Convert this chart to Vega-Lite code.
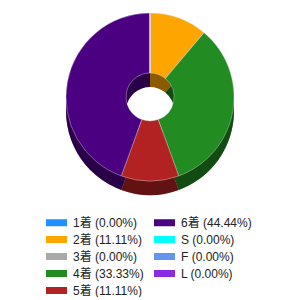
{
  "$schema": "https://vega.github.io/schema/vega-lite/v6.json",
  "width": 300,
  "height": 194,
  "padding": 0,
  "background": "white",
  "config": {"view": {"stroke": null}},
  "data": {
    "values": [
      {"label": "1着 (0.00%)", "count": 0, "rank": 1},
      {"label": "2着 (11.11%)", "count": 1, "rank": 2},
      {"label": "3着 (0.00%)", "count": 0, "rank": 3},
      {"label": "4着 (33.33%)", "count": 3, "rank": 4},
      {"label": "5着 (11.11%)", "count": 1, "rank": 5},
      {"label": "6着 (44.44%)", "count": 4, "rank": 6},
      {"label": "S (0.00%)", "count": 0, "rank": 7},
      {"label": "F (0.00%)", "count": 0, "rank": 8},
      {"label": "L (0.00%)", "count": 0, "rank": 9}
    ]
  },
  "encoding": {
    "theta": {"field": "count", "type": "quantitative", "stack": true},
    "order": {"field": "rank", "type": "quantitative"}
  },
  "layer": [
    {
      "mark": {"type": "arc", "outerRadius": 84, "innerRadius": 24, "yOffset": 14},
      "encoding": {
        "color": {
          "field": "label",
          "type": "nominal",
          "scale": {
            "domain": ["1着 (0.00%)", "2着 (11.11%)", "3着 (0.00%)", "4着 (33.33%)", "5着 (11.11%)", "6着 (44.44%)", "S (0.00%)", "F (0.00%)", "L (0.00%)"],
            "range": ["#1E90FF", "#FFA500", "#A9A9A9", "#228B22", "#B22222", "#4B0082", "#00FFFF", "#6495ED", "#8A2BE2"]
          },
          "legend": {
            "title": null,
            "orient": "none",
            "legendX": 46,
            "legendY": 212,
            "columns": 2,
            "columnPadding": 10,
            "rowPadding": -2,
            "symbolType": "M-1,-0.333H1V0.333H-1Z",
            "symbolSize": 441,
            "symbolStrokeWidth": 0,
            "labelOffset": 6,
            "labelFont": "Liberation Sans, Noto Sans CJK JP",
            "labelFontSize": 12,
            "labelColor": "#222222",
            "labelLimit": 200
          }
        }
      }
    },
    {
      "mark": {"type": "arc", "outerRadius": 84, "innerRadius": 24, "yOffset": 14, "color": "black", "opacity": 0.45}
    },
    {
      "mark": {"type": "arc", "outerRadius": 84, "innerRadius": 24, "stroke": "#dddddd", "strokeWidth": 0.4},
      "encoding": {
        "color": {"field": "label", "type": "nominal"}
      }
    }
  ]
}
